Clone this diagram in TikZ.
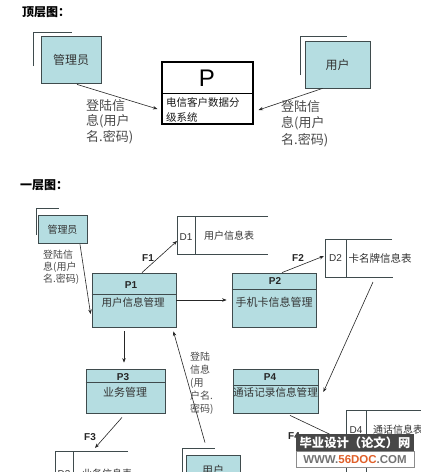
\documentclass[tikz,border=0pt]{standalone}
\usepackage{fontspec}
\setmainfont{Noto Sans CJK SC}
\newfontfamily\lat{Liberation Sans}
\usetikzlibrary{arrows.meta,calc}
\definecolor{teal1}{HTML}{B5DDE1}
\definecolor{bord}{HTML}{3F4B4D}
\definecolor{txt}{HTML}{333333}
\definecolor{lblc}{HTML}{4A4A4A}
\definecolor{orange56}{HTML}{E0602A}
\begin{document}
\begin{tikzpicture}[x=1pt,y=-1pt,
  ent/.style={draw=bord, line width=0.8pt, fill=teal1, inner sep=0, text=txt},
  proc/.style={draw=bord, line width=0.8pt, fill=teal1, inner sep=0},
  divl/.style={draw=bord, line width=0.7pt},
  shad/.style={draw=bord, line width=0.8pt},
  store/.style={draw=bord, line width=0.7pt},
  arr/.style={draw=black!85, line width=0.6pt, -{Stealth[length=4.5pt,width=3.5pt]}},
  lbl/.style={align=left, text=lblc, inner sep=0, anchor=north west},
  flab/.style={font=\lat\bfseries\fontsize{10}{12}\selectfont, inner sep=0, text=black!85},
  pid/.style={font=\lat\bfseries\fontsize{10}{12}\selectfont, inner sep=0, text=black!85},
  ptx/.style={font=\fontsize{10.5}{12}\selectfont, inner sep=0, text=txt},
  dtx/.style={font=\fontsize{10}{12}\selectfont, inner sep=0, text=txt},
  ttl/.style={font=\bfseries\fontsize{12}{14}\selectfont, anchor=west, inner sep=0}
]
\useasboundingbox (0,0) rectangle (421,472);
\clip (0,0) rectangle (421,472);
\fill[white] (0,0) rectangle (421,472);

% ---------- top level ----------
\node[ttl] (t1) at (22,12) {顶层图：};

\draw[shad] (33,66) -- (33,32) -- (72,32);
\node[ent, minimum width=60, minimum height=47, font=\fontsize{12}{14}\selectfont] (adm) at (71,59.5) {管理员};

\draw[shad] (300,75) -- (300,36) -- (347,36);
\node[ent, minimum width=65, minimum height=47, font=\fontsize{12}{14}\selectfont] (usr) at (337.5,64.5) {用户};

\node[draw=black, line width=1.1pt, fill=white, minimum width=91, minimum height=62, inner sep=0] (P) at (207.5,93) {};
\draw[black, line width=0.8pt] (P.west) -- (P.east);
\node[font=\lat\fontsize{24}{24}\selectfont, inner sep=0] (Pt) at (207,78) {P};
\node[lbl, text=black!90, font=\fontsize{10.5}{15}\selectfont] (Pd) at (166,97) {电信客户数据分\\级系统};

\draw[arr] ($(adm.south)+(6,1)$) -- ($(P.west)+(-4,16)$);
\draw[arr] ($(usr.south)+(-15,0)$) -- ($(P.east)+(5,17)$);

\node[lbl, font=\fontsize{13}{15.5}\selectfont] (l1) at (86,99) {登陆信\\息(用户\\名.密码)};
\node[lbl, font=\fontsize{13}{16.5}\selectfont] (l2) at (281,100) {登陆信\\息(用户\\名.密码)};

% ---------- first level ----------
\node[ttl] (t2) at (20,185) {一层图：};

\draw[shad] (36,235) -- (36,208) -- (59,208);
\node[ent, minimum width=49, minimum height=28, font=\fontsize{10}{12}\selectfont] (adm2) at (62.5,229.5) {管理员};
\node[lbl, font=\fontsize{10}{12}\selectfont] (l3) at (43,250) {登陆信\\息(用户\\名.密码)};

% P1
\node[proc, minimum width=84, minimum height=54] (P1) at (134,300) {};
\draw[divl] (P1.west |- 0,294) -- (P1.east |- 0,294);
\node[pid] (P1a) at (131,285) {P1};
\node[ptx] (P1b) at (133,302) {用户信息管理};

% P2
\node[proc, minimum width=84, minimum height=54] (P2) at (274,300) {};
\draw[divl] (P2.west |- 0,289) -- (P2.east |- 0,289);
\node[pid] (P2a) at (275,281) {P2};
\node[ptx, font=\fontsize{11}{12}\selectfont] (P2b) at (274,302) {手机卡信息管理};

% P3
\node[proc, minimum width=79, minimum height=44] (P3) at (125.5,391) {};
\draw[divl] (P3.west |- 0,382) -- (P3.east |- 0,382);
\node[pid] (P3a) at (123,377) {P3};
\node[ptx, font=\fontsize{11}{12}\selectfont] (P3b) at (125,392) {业务管理};

% P4
\node[proc, minimum width=85, minimum height=44] (P4) at (275.5,391) {};
\draw[divl] (P4.west |- 0,385) -- (P4.east |- 0,385);
\node[pid] (P4a) at (270,377) {P4};
\node[ptx, font=\fontsize{10.6}{12}\selectfont] (P4b) at (275.5,392) {通话记录信息管理};

% user entity (bottom)
\draw[shad] (182,480) -- (182,448) -- (215,448);
\node[ent, minimum width=54, minimum height=30, font=\fontsize{11}{12}\selectfont] (usr2) at (213,470) {用户};

% data stores
\draw[store] (268,216) -- (177,216) -- (177,254) -- (268,254);
\draw[store] (195,216) -- (195,254);
\node[dtx, font=\lat\fontsize{10}{12}\selectfont] (D1a) at (186,237) {D1};
\node[dtx] (D1b) at (229,236) {用户信息表};

\draw[store] (392,239) -- (325,239) -- (325,277) -- (393,277);
\draw[store] (346,239) -- (346,277);
\node[dtx, font=\lat\fontsize{10}{12}\selectfont] (D2a) at (335.5,258) {D2};
\node[dtx, font=\fontsize{10.5}{12}\selectfont] (D2b) at (380,258) {卡名牌信息表};

\draw[store] (128,451) -- (55,451) -- (55,480);
\draw[store] (73,451) -- (73,480);
\node[dtx, font=\lat\fontsize{10}{12}\selectfont] (D3a) at (64,474) {D3};
\node[dtx] (D3b) at (107,474) {业务信息表};

\draw[store] (421,410) -- (346,410) -- (346,480);
\draw[store] (366,410) -- (366,480);
\node[dtx, font=\lat\fontsize{10}{12}\selectfont] (D4a) at (356,430) {D4};
\node[dtx, anchor=west] (D4b) at (373,430) {通话信息表};

% connection points
\coordinate (d1in) at (177,241);
\coordinate (d2in) at (324,256);
\coordinate (d2out) at (373,282);
\coordinate (d3in) at (95,448);
\coordinate (d4in) at (344,441);

% connectors
\draw[arr] ($(adm2.south)+(17.5,0.5)$) -- ($(P1.west)+(-1,14)$);
\draw[arr] ($(P1.north)+(8,0)$) -- (d1in);
\draw[arr, shorten >=5pt] (P1.east) -- (P2.west);
\draw[arr] ($(P2.north)+(8,0)$) -- (d2in);
\draw[arr] (d2out) -- ($(P4.east)+(5,1)$);
\draw[arr] ($(P1.south)+(-10,4)$) -- ($(P3.north)+(-1.5,-6)$);
\draw[arr] ($(usr2.north)+(-8,-12)$) -- ($(P1.south east)+(-3,4)$);
\draw[arr] ($(P3.south)+(-3.5,4)$) -- (d3in);
\draw[arr] ($(P4.south)+(14.5,2)$) -- (d4in);

\node[flab] (F1) at (148,258) {F1};
\node[flab] (F2) at (298,258) {F2};
\node[flab] (F3) at (90,437) {F3};
\node[flab] (F4) at (294,436) {F4};

\node[lbl, font=\fontsize{10}{13}\selectfont] (l4) at (190,352) {登陆\\信息\\(用\\户名.\\密码)};

% logo
\node[fill=black!72, text=white, font=\bfseries\fontsize{12.3}{14}\selectfont, minimum width=118, minimum height=17, inner sep=0] (logo1) at (355,442.5) {毕业设计（论文）网};
\node[draw=black!45, fill=white, text=black!55, font=\lat\bfseries\fontsize{11.5}{12}\selectfont, minimum width=118, minimum height=16, inner sep=0] (logo2) at (355,459.5) {WWW.\textcolor{orange56}{56DOC}.COM};
\end{tikzpicture}
\end{document}
